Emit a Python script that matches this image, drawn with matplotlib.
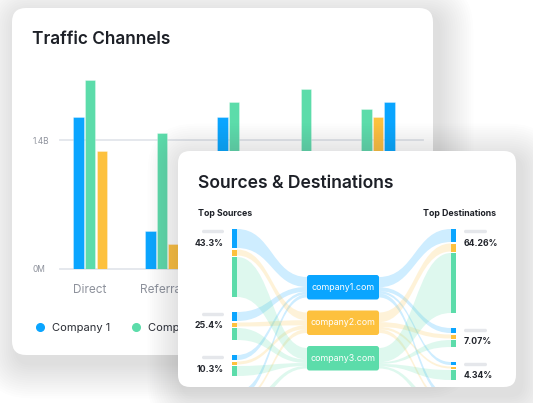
import matplotlib.pyplot as plt
from matplotlib.patches import FancyBboxPatch, PathPatch, Rectangle
from matplotlib.path import Path
from matplotlib.lines import Line2D

plt.rcParams['font.family'] = ['Inter', 'DejaVu Sans']

# --- datos: Traffic Channels (miles de millones) ---
# solo se ven las dos primeras etiquetas, el resto queda bajo la segunda tarjeta
channels = ['Direct', 'Referral', '', '', '']
company1 = [1.65, 0.41, 1.65, 0.90, 1.81]
company2 = [2.05, 1.48, 1.81, 1.95, 1.74]
company3 = [1.28, 0.27, 1.00, 0.80, 1.65]
series_names = ['Company 1', 'Company 2', 'Company 3']
# orden de las barras dentro de cada grupo (indice de serie por hueco)
bar_order = [[0, 1, 2], [0, 1, 2], [0, 1, 2], [0, 1, 2], [1, 2, 0]]
ytick_vals = [0, 1.4]
ytick_labels = ['0M', '1.4B']

# --- datos: Sources & Destinations ---
companies = ['company1.com', 'company2.com', 'company3.com']
source_pct = ['43.3%', '25.4%', '10.3%']
dest_pct = ['64.26%', '7.07%', '4.34%']
# flujo por fuente/destino y empresa (la ultima fila queda fuera de la tarjeta)
source_flows = [[19, 6, 40], [9, 4, 12], [5, 3, 10], [6, 3, 9]]
dest_flows = [[13, 8, 60], [5, 4, 7], [3, 2, 10], [5, 3, 9]]

BLUE, GREEN, YELLOW = '#0aa5ff', '#5cdcaa', '#fdc13e'
bar_colors = [BLUE, GREEN, YELLOW]
company_colors = [BLUE, YELLOW, GREEN]
W_PX, H_PX = 533, 403


def fx(px):
    return px / W_PX


def fy(py):
    return 1 - py / H_PX


def card(ax, x, y, w, h, r, z):
    # sombra difusa con varias capas
    for i in range(16, 0, -1):
        e = i * 2.2
        ax.add_patch(FancyBboxPatch((x + 5, y + 8), w, h,
                                    boxstyle=f'round,pad={e},rounding_size={r + e}',
                                    fc='#5a6070', ec='none', alpha=0.012, zorder=z))
    p = FancyBboxPatch((x, y), w, h, boxstyle=f'round,pad=0,rounding_size={r}',
                       fc='white', ec='none', zorder=z + 0.5)
    ax.add_patch(p)
    return p


def band(ax, x0, a0, b0, x1, a1, b1, color, clip):
    xm = (x0 + x1) / 2
    verts = [(x0, a0), (xm, a0), (xm, a1), (x1, a1),
             (x1, b1), (xm, b1), (xm, b0), (x0, b0), (x0, a0)]
    codes = [Path.MOVETO, Path.CURVE4, Path.CURVE4, Path.CURVE4,
             Path.LINETO, Path.CURVE4, Path.CURVE4, Path.CURVE4, Path.CLOSEPOLY]
    p = PathPatch(Path(verts, codes), fc=color, ec='none', alpha=0.2, zorder=3)
    ax.add_patch(p)
    p.set_clip_path(clip)


fig = plt.figure(figsize=(5.33, 4.03), dpi=100)
fig.patch.set_facecolor('white')

# fondo + tarjeta 1
bg = fig.add_axes([0, 0, 1, 1], zorder=0)
bg.set_xlim(0, W_PX)
bg.set_ylim(H_PX, 0)
bg.axis('off')
card(bg, 12, 8, 421, 347, 14, 1)
bg.text(32, 40, 'Traffic Channels', fontsize=12.4, fontweight='semibold',
        color='#1d2027', va='center', ha='left', zorder=5)

# --- grafico de barras ---
ax = fig.add_axes([fx(60), fy(269), fx(423) - fx(60), fy(60) - fy(269)], zorder=1)
ax.set_facecolor('none')
SLOT, BW = 0.16, 0.14
for s, vals in enumerate([company1, company2, company3]):
    xs = [g + (bar_order[g].index(s) - 1) * SLOT for g in range(len(channels))]
    ax.bar(xs, vals, width=BW, color=bar_colors[s], edgecolor=(1, 1, 1, 0.35),
           linewidth=0.6, zorder=3, label=series_names[s])
for v in ytick_vals:
    ax.axhline(v, color='#e3e6ec', linewidth=1.3, zorder=1, clip_on=False)
ax.set_xlim(-0.417, 4.625)
ax.set_ylim(0, 1.4 * 209 / 129)
ax.set_yticks(ytick_vals, ytick_labels)
ax.set_xticks(range(len(channels)), channels)
for lab in ax.get_yticklabels():
    lab.set_horizontalalignment('left')
ax.tick_params(axis='y', length=0, pad=20, labelsize=6, labelcolor='#8e929c')
ax.tick_params(axis='x', length=0, pad=11, labelsize=8.5, labelcolor='#8e929c')
for sp in ax.spines.values():
    sp.set_visible(False)

handles = [Line2D([], [], marker='o', linestyle='none', color=c, markersize=5.5)
           for c in bar_colors]
ax.legend(handles, series_names, loc='center left', bbox_to_anchor=(fx(35.5), fy(328)),
          bbox_transform=fig.transFigure, ncol=3, frameon=False, fontsize=8,
          handlelength=0.8, handletextpad=0.7, columnspacing=1.9, borderpad=0,
          borderaxespad=0, labelcolor='#2a2d34')

# --- tarjeta 2: sankey ---
top = fig.add_axes([0, 0, 1, 1], zorder=2)
top.set_facecolor('none')
top.set_xlim(0, W_PX)
top.set_ylim(H_PX, 0)
top.axis('off')
clip = card(top, 178, 151, 338, 236, 12, 1)

top.text(198, 183, 'Sources & Destinations', fontsize=12.6, fontweight='semibold',
         color='#1d2027', va='center', ha='left', zorder=6)
top.text(198, 213, 'Top Sources', fontsize=6.3, fontweight='bold',
         color='#1d2027', va='center', ha='left', zorder=6)
top.text(496, 213, 'Top Destinations', fontsize=6.3, fontweight='bold',
         color='#1d2027', va='center', ha='right', zorder=6)

NODE_W = 5
SRC_X, DST_X = 232, 451
BOX_L, BOX_R = 307, 379
BOX_TOP, BOX_H, BOX_GAP = 275, 24.5, 11
NODE_TOP, NODE_GAP, SEG_GAP = 229, 15, 1.5


def stack_nodes(flows):
    nodes = []
    y = NODE_TOP
    for row in flows:
        segs = []
        for v in row:
            segs.append((y, y + v))
            y += v + SEG_GAP
        y += NODE_GAP - SEG_GAP
        nodes.append(segs)
    return nodes


def box_ports(flows, j):
    bt = BOX_TOP + j * (BOX_H + BOX_GAP)
    total = sum(row[j] for row in flows)
    k = (BOX_H - 4) / total
    ports = []
    y = bt + 2
    for row in flows:
        ports.append((y, y + row[j] * k))
        y += row[j] * k
    return ports


src_nodes = stack_nodes(source_flows)
dst_nodes = stack_nodes(dest_flows)

for j in range(len(companies)):
    ports = box_ports(source_flows, j)
    for i, segs in enumerate(src_nodes):
        a0, b0 = segs[j]
        band(top, SRC_X + NODE_W, a0, b0, BOX_L, ports[i][0], ports[i][1],
             company_colors[j], clip)
    ports = box_ports(dest_flows, j)
    for d, segs in enumerate(dst_nodes):
        a1, b1 = segs[j]
        band(top, BOX_R, ports[d][0], ports[d][1], DST_X, a1, b1,
             company_colors[j], clip)

for x0, nodes in [(SRC_X, src_nodes), (DST_X, dst_nodes)]:
    for segs in nodes:
        for j, (a, b) in enumerate(segs):
            r = Rectangle((x0, a), NODE_W, b - a, fc=company_colors[j], ec='none', zorder=4)
            top.add_patch(r)
            r.set_clip_path(clip)

for lab, segs in zip(source_pct, src_nodes):
    t = segs[0][0]
    top.add_patch(FancyBboxPatch((202, t + 0.8), 22, 3.4, boxstyle='round,pad=0,rounding_size=1.7',
                                 fc='#e5e7eb', ec='none', zorder=5))
    top.text(223.5, t + 14, lab, fontsize=6.3, fontweight='bold', color='#23262d',
             ha='right', va='center', zorder=6)
for lab, segs in zip(dest_pct, dst_nodes):
    t = segs[0][0]
    top.add_patch(FancyBboxPatch((464, t + 0.8), 23, 3.4, boxstyle='round,pad=0,rounding_size=1.7',
                                 fc='#e5e7eb', ec='none', zorder=5))
    top.text(464, t + 14, lab, fontsize=6.3, fontweight='bold', color='#23262d',
             ha='left', va='center', zorder=6)

for j, name in enumerate(companies):
    bt = BOX_TOP + j * (BOX_H + BOX_GAP)
    top.add_patch(FancyBboxPatch((BOX_L, bt), BOX_R - BOX_L, BOX_H,
                                 boxstyle='round,pad=0,rounding_size=2.5',
                                 fc=company_colors[j], ec='none', zorder=5))
    top.text((BOX_L + BOX_R) / 2, bt + BOX_H / 2, name, fontsize=6.4, color='white',
             ha='center', va='center', zorder=6)

fig.savefig('out.png', dpi=100, facecolor='white')
